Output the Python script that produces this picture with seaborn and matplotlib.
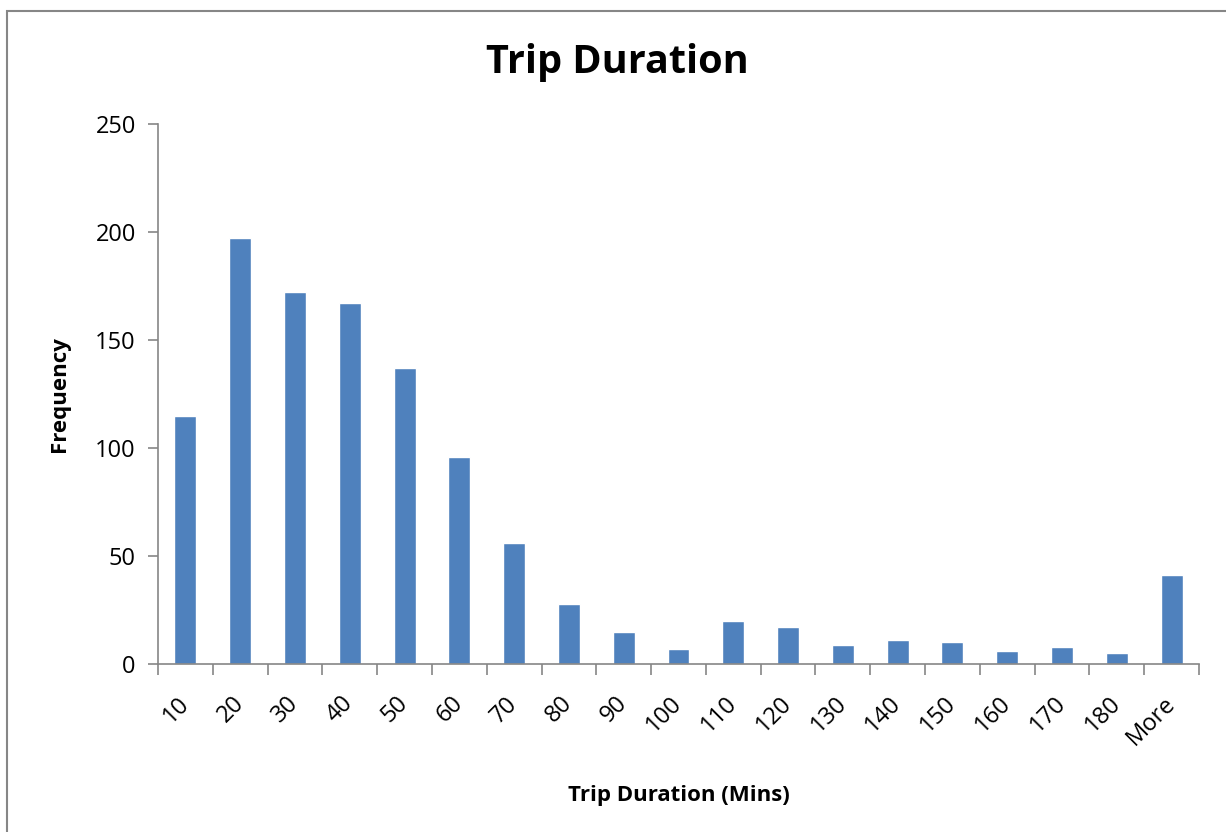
import matplotlib
matplotlib.use("Agg")
import matplotlib.pyplot as plt
import seaborn as sns
import pandas as pd
from matplotlib.patches import Rectangle

# Histogram bins (upper edge in minutes) and trip counts
bins = ["10", "20", "30", "40", "50", "60", "70", "80", "90", "100",
        "110", "120", "130", "140", "150", "160", "170", "180", "More"]
frequency = [115, 197, 172, 167, 137, 96, 56, 28, 15, 7,
             20, 17, 9, 11, 10, 6, 8, 5, 41]
y_ticks = [0, 50, 100, 150, 200, 250]

sns.set_theme(style="white")
plt.rcParams["font.family"] = ["Open Sans", "DejaVu Sans"]
plt.rcParams["text.color"] = "black"
plt.rcParams["axes.labelcolor"] = "black"

df = pd.DataFrame({"bin": bins, "freq": frequency})

fig = plt.figure(figsize=(12.26, 8.32), dpi=100)
ax = fig.add_axes([158 / 1226, 1 - 664 / 832, (1199 - 158) / 1226, (664 - 124) / 832])

sns.barplot(data=df, x="bin", y="freq", order=bins, color="#4F81BD",
            saturation=1, width=0.4, ax=ax)

axis_gray = "#868686"
for side in ("top", "right"):
    ax.spines[side].set_visible(False)
for side in ("left", "bottom"):
    ax.spines[side].set_color(axis_gray)
    ax.spines[side].set_linewidth(1.2)

ax.set_xlim(-0.5, len(bins) - 0.5)
ax.set_ylim(0, 250)
ax.set_yticks(y_ticks)
ax.tick_params(axis="y", which="major", length=7, width=1.2, color=axis_gray,
               labelcolor="black", labelsize=17, pad=9, left=True,
               direction="out")

# category boundaries carry the tick marks, labels sit at centres
ax.set_xticks([i - 0.5 for i in range(len(bins) + 1)], minor=True)
ax.tick_params(axis="x", which="minor", length=8, width=1.2, color=axis_gray,
               bottom=True, direction="out")
ax.tick_params(axis="x", which="major", length=0, labelsize=17,
               labelcolor="black", pad=26)
for lbl in ax.get_xticklabels():
    lbl.set_rotation(45)
    lbl.set_ha("right")
    lbl.set_va("center")
    lbl.set_rotation_mode("anchor")

ax.set_xlabel("Trip Duration (Mins)", fontsize=16, fontweight="bold", labelpad=25)
ax.set_ylabel("Frequency", fontsize=16, fontweight="bold", labelpad=18)
ax.grid(False)

fig.text(617 / 1226, 1 - 63 / 832, "Trip Duration", fontsize=28.5,
         fontweight="bold", ha="center", va="center")

# chart frame
fig.patches.append(Rectangle((7 / 1226, -0.05), 1.2, 1 - 11 / 832 + 0.05,
                             transform=fig.transFigure, fill=False,
                             edgecolor=axis_gray, linewidth=1.5))

fig.savefig("out.png", dpi=100, facecolor="white")
